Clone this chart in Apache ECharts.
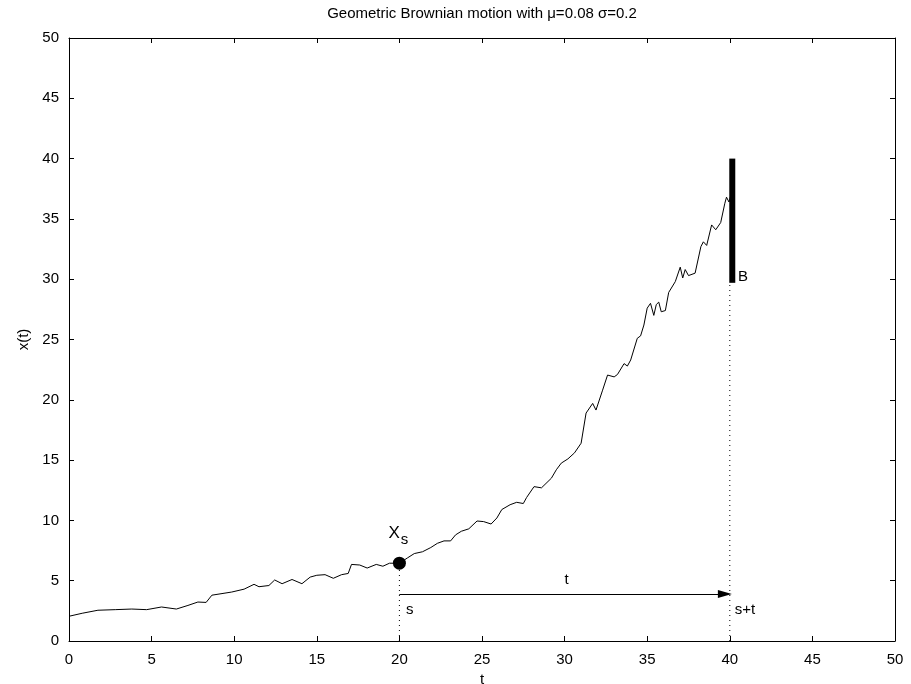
<!DOCTYPE html>
<html>
<head>
<meta charset="utf-8">
<script src="https://cdn.jsdelivr.net/npm/echarts@6/dist/echarts.min.js"></script>
<style>
  html, body { margin: 0; padding: 0; background: #fff; }
  #gbmChart { width: 911px; height: 684px; }
</style>
</head>
<body>
<div id="gbmChart"></div>
<script>
// sample path of the process: [t, x(t)]
const pathPoints = [
    [0, 2.05], [0.8, 2.3], [1.75, 2.55], [2.8, 2.6], [3.8, 2.65], [4.7, 2.6],
    [5.6, 2.82], [6.5, 2.65], [7.2, 2.95], [7.8, 3.23], [8.3, 3.2], [8.65, 3.8],
    [9.85, 4.06], [10.6, 4.3], [11.2, 4.7], [11.5, 4.5], [12.1, 4.6], [12.45, 5.06],
    [12.9, 4.75], [13.5, 5.1], [14.1, 4.75], [14.6, 5.3], [15.0, 5.45], [15.5, 5.5],
    [16.0, 5.2], [16.5, 5.5], [16.9, 5.6], [17.1, 6.35], [17.6, 6.3], [18.05, 6.05],
    [18.6, 6.35], [19.0, 6.2], [19.4, 6.45], [20.0, 6.45], [20.5, 6.9], [20.9, 7.25],
    [21.4, 7.4], [21.9, 7.75], [22.3, 8.1], [22.7, 8.3], [23.1, 8.3], [23.4, 8.8],
    [23.75, 9.1], [24.2, 9.3], [24.7, 9.95], [25.1, 9.9], [25.55, 9.7], [25.9, 10.2],
    [26.2, 10.9], [26.7, 11.3], [27.1, 11.5], [27.5, 11.4], [27.7, 11.9], [28.15, 12.8],
    [28.6, 12.7], [29.2, 13.5], [29.5, 14.2], [29.8, 14.75], [30.2, 15.1], [30.6, 15.6],
    [31.0, 16.4], [31.3, 18.9], [31.7, 19.7], [31.9, 19.15], [32.3, 20.8], [32.6, 22.05],
    [33.0, 21.9], [33.2, 22.1], [33.6, 23.0], [33.8, 22.8], [34.0, 23.3], [34.4, 25.1],
    [34.6, 25.3], [34.8, 26.2], [35.0, 27.6], [35.2, 28.0], [35.4, 27.0], [35.55, 27.9],
    [35.7, 28.1], [35.85, 27.3], [36.1, 27.4], [36.3, 28.9], [36.7, 29.8], [37.0, 31.0],
    [37.15, 30.1], [37.3, 30.8], [37.5, 30.3], [37.9, 30.5], [38.25, 32.7], [38.4, 33.1],
    [38.6, 32.8], [38.9, 34.5], [39.15, 34.1], [39.45, 34.7], [39.7, 36.3], [39.8, 36.8],
    [39.95, 36.4], [40.05, 36.9]
];

// marked start point X_s
const startPoint = [20, 6.45];
// barrier B: t position, bottom, top
const barrierT = 40.15;
const barrierRange = [29.7, 40];
// horizon arrow from s to s+t
const sTime = 20;
const endTime = 40;
const arrowLevel = 3.9;
// free text notes: [t, x, text]
const notes = [
    [30, 5.1, 't'],
    [20.4, 2.6, 's'],
    [40.3, 2.6, 's+t'],
    [40.5, 30.2, 'B']
];

const axisTicks = [0, 5, 10, 15, 20, 25, 30, 35, 40, 45, 50];

const chart = echarts.init(document.getElementById('gbmChart'));
const FONT = 'Liberation Sans, Arial, Helvetica, sans-serif';

const baseX = {
    type: 'value', min: axisTicks[0], max: axisTicks[axisTicks.length - 1], interval: 5,
    splitLine: { show: false },
    axisLine: { show: true, onZero: false, lineStyle: { color: '#000', width: 1 } },
    axisTick: { show: true, inside: true, length: 5, lineStyle: { color: '#000' } }
};

const option = {
    backgroundColor: '#fff',
    animation: false,
    textStyle: { fontFamily: FONT },
    title: {
        text: 'Geometric Brownian motion with \u03bc=0.08 \u03c3=0.2',
        left: 477, top: 1, textAlign: 'center',
        textStyle: { fontSize: 15, fontWeight: 'normal', color: '#000', fontFamily: FONT }
    },
    grid: { left: 69, right: 16, top: 38, bottom: 43, outerBoundsMode: 'none' },
    xAxis: [
        Object.assign({}, baseX, {
            position: 'bottom', name: 't', nameLocation: 'middle', nameGap: 29,
            nameTextStyle: { fontSize: 15, color: '#000' },
            axisLabel: { fontSize: 15, color: '#000', margin: 11 }
        }),
        Object.assign({}, baseX, { position: 'top', axisLabel: { show: false } })
    ],
    yAxis: [
        Object.assign({}, baseX, {
            position: 'left', name: 'x(t)', nameLocation: 'middle', nameGap: 35, nameRotate: 90,
            nameTextStyle: { fontSize: 15, color: '#000' },
            axisLabel: { fontSize: 15, color: '#000', margin: 10 }
        }),
        Object.assign({}, baseX, { position: 'right', axisLabel: { show: false } })
    ],
    series: [
        {
            name: 'path', type: 'line', data: pathPoints, showSymbol: false,
            lineStyle: { color: '#000', width: 1 }, z: 3
        },
        {
            // dotted guide at s, from axis to the point
            type: 'line', data: [[sTime, 0], startPoint], showSymbol: false,
            lineStyle: { color: '#000', width: 1, type: [1, 4] }
        },
        {
            // dotted guide at s+t, from axis to barrier bottom
            type: 'line', data: [[endTime, 0], [endTime, barrierRange[0]]], showSymbol: false,
            lineStyle: { color: '#000', width: 1, type: [1, 4] }
        },
        {
            // barrier B
            type: 'line', data: [[barrierT, barrierRange[0]], [barrierT, barrierRange[1]]],
            showSymbol: false, lineStyle: { color: '#000', width: 6, cap: 'butt' }, z: 4
        },
        {
            // arrow from s to s+t
            type: 'line', data: [],
            markLine: {
                silent: true, symbol: ['none', 'triangle'], symbolSize: [8, 14],
                lineStyle: { color: '#000', width: 1, type: 'solid' },
                label: { show: false },
                data: [[{ coord: [sTime, arrowLevel] }, { coord: [endTime - 0.3, arrowLevel] }]]
            }
        },
        {
            // X_s point
            type: 'scatter', data: [startPoint], symbolSize: 13,
            itemStyle: { color: '#000', opacity: 1 }, z: 5,
            label: {
                show: true, position: 'top', distance: 9, offset: [-1, 0],
                formatter: '{a|X}{b|s}',
                rich: {
                    a: { fontSize: 17, color: '#000', fontFamily: FONT },
                    b: { fontSize: 15, color: '#000', fontFamily: FONT, padding: [14, 0, 0, 1] }
                }
            }
        },
        {
            type: 'scatter', data: notes.map(n => ({ value: [n[0], n[1]], name: n[2] })),
            symbolSize: 0, itemStyle: { opacity: 1 },
            label: {
                show: true, position: 'right', distance: 0,
                formatter: p => p.name,
                fontSize: 15, color: '#000', fontFamily: FONT
            }
        }
    ]
};

chart.setOption(option);
</script>
</body>
</html>
